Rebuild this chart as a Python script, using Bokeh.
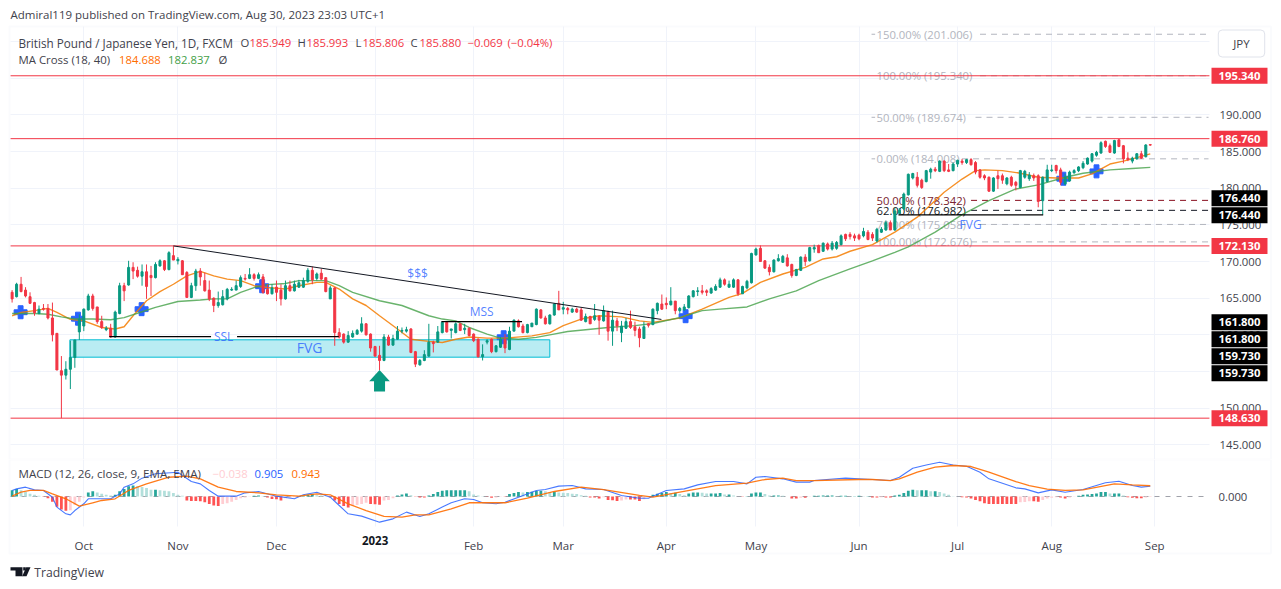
from bokeh.plotting import figure
from bokeh.layouts import column
from bokeh.models import (Range1d, FixedTicker, NumeralTickFormatter, Label, BoxAnnotation,
                          PolyAnnotation, ColumnDataSource)
from bokeh.core.properties import value
from bokeh.embed import file_html
from bokeh.resources import INLINE

FONT = "Open Sans"

opens = [165.8,165.2,166.9,166.1,165.2,164.4,162.9,163.6,163.6,162.3,
160.2,155.1,154.5,155.3,156.9,160.4,161.2,163.4,165.3,163.8,
161.8,160.7,160.9,159.7,162.9,166.7,166.8,169.2,168.8,168.0,
168.6,168.1,167.8,169.4,170.1,168.9,170.8,170.1,170.1,168.5,
165.1,166.7,168.7,167.4,166.1,165.0,164.0,164.1,164.9,166.1,
166.1,166.6,167.7,167.7,168.2,167.7,167.9,166.2,165.6,166.5,
166.1,164.9,166.7,166.0,166.5,166.5,167.3,168.8,167.7,168.4,
167.8,164.9,166.4,160.3,160.1,159.0,159.7,160.1,160.5,161.5,
160.1,158.4,157.2,156.5,159.7,158.6,159.4,160.5,160.5,160.8,
157.7,155.9,156.5,157.1,
159.0,159.0,160.3,161.7,160.6,160.3,161.5,160.7,160.9,160.1,
159.4,157.0,159.0,159.4,157.7,158.3,159.4,158.0,160.5,161.9,
161.2,160.3,161.1,161.4,163.4,162.3,161.5,162.7,164.3,163.5,
163.6,163.1,163.5,163.4,161.8,162.5,162.1,162.5,161.9,163.1,
160.5,161.9,160.3,160.9,161.8,161.1,160.8,159.5,161.5,161.4,
163.3,164.2,164.3,164.1,164.6,163.3,163.4,163.7,165.2,165.9,
166.0,166.0,165.7,166.1,166.5,167.5,166.5,166.5,167.5,165.6,
166.4,167.1,170.9,171.8,170.1,169.2,168.6,170.1,169.9,170.5,
169.6,168.1,168.8,170.6,170.1,171.7,172.2,171.4,172.4,171.7,
171.8,172.3,173.7,173.7,173.5,173.6,173.5,174.0,173.7,172.8,
174.0,174.3,175.3,174.3,176.6,177.2,179.1,181.4,181.5,181.1,
180.9,182.2,182.6,182.3,183.7,182.5,182.4,183.3,183.7,183.5,
183.9,183.5,182.5,181.7,181.5,179.6,181.7,181.7,180.6,181.5,
180.8,180.1,181.5,181.3,181.7,181.7,178.3,180.9,182.4,183.1,
182.5,180.6,181.0,182.1,182.4,182.8,183.3,183.7,184.5,184.8,
186.4,185.8,184.8,186.6,185.8,184.1,183.7,184.0,184.7,184.3,185.949]

closes = [164.9,166.9,165.9,165.3,164.3,163.0,163.5,163.5,162.3,160.0,
155.2,154.5,155.3,156.9,159.3,162.1,163.5,165.3,163.6,161.8,
161.0,160.9,159.7,163.1,166.7,166.0,169.2,168.7,168.0,168.6,
166.6,167.8,169.6,170.1,168.9,171.2,170.2,170.3,168.2,165.1,
166.7,168.7,167.9,166.0,164.9,164.0,164.4,165.2,166.2,166.2,
166.7,167.8,167.6,168.2,167.7,168.2,165.8,165.6,166.4,165.8,
164.9,166.7,166.0,166.9,167.1,167.4,168.8,167.5,168.3,167.6,
165.9,166.4,160.3,159.7,159.0,159.9,160.2,160.6,161.5,160.0,
158.2,157.1,156.5,159.7,158.6,159.5,160.5,160.6,160.7,157.6,
156.0,156.5,157.3,159.0,
158.8,160.4,161.7,160.4,160.8,161.5,160.6,160.9,159.9,159.2,
157.0,157.3,159.2,157.7,158.5,159.4,158.2,160.5,162.0,161.1,
160.3,161.4,161.6,163.5,162.3,161.5,162.7,164.2,163.4,163.7,
163.4,163.5,163.1,162.0,162.5,161.5,162.6,162.0,163.3,160.5,
162.0,161.2,161.2,161.8,161.0,160.6,159.6,161.1,161.3,163.5,
164.3,163.5,164.1,164.6,163.3,163.6,163.8,165.3,166.0,166.0,
165.8,165.8,166.3,166.6,167.5,166.9,166.9,167.5,165.6,166.6,
167.3,171.1,171.7,170.0,169.1,168.6,170.2,170.4,170.7,169.4,
168.1,168.9,170.6,170.0,171.9,171.9,171.2,172.5,171.7,172.5,
172.6,173.5,173.1,173.4,173.2,173.1,174.1,173.0,173.2,174.4,
174.4,175.3,174.3,176.9,177.0,179.2,181.9,182.0,180.4,180.1,
182.4,182.6,182.4,183.7,182.4,182.3,183.3,183.8,183.5,183.9,
183.2,182.2,181.5,181.4,179.6,181.4,181.3,181.1,181.4,180.4,
180.4,182.4,182.3,181.8,181.4,178.2,181.5,182.5,182.5,182.4,
180.8,181.5,182.2,182.4,182.9,183.4,184.1,184.7,184.9,186.2,
185.7,184.9,186.5,185.7,184.0,183.9,184.1,184.7,184.1,185.9,185.88]

highs = [166.1,167.1,167.9,166.5,165.8,164.5,164.0,164.2,164.2,164.4,
160.2,157.1,156.4,159.2,159.3,162.8,163.6,165.6,165.6,163.8,
162.6,161.2,161.5,163.3,167.1,167.1,170.1,169.9,169.3,169.6,
169.6,169.4,169.9,170.3,170.2,171.4,172.1,170.6,170.2,168.7,
167.1,169.0,169.1,168.5,167.4,165.1,165.9,166.1,166.4,166.5,
167.4,168.1,168.3,169.1,168.4,168.5,168.3,166.9,166.9,167.4,
166.9,167.4,167.4,167.4,167.5,167.8,169.1,169.3,168.5,169.0,
167.8,166.7,166.5,160.9,160.2,160.5,160.6,160.8,162.4,161.6,
160.2,158.5,158.5,160.1,160.0,160.0,161.2,161.0,161.1,160.9,
157.8,156.7,157.9,161.5,
159.2,161.2,161.8,161.8,160.8,161.7,161.6,161.5,161.0,160.2,
159.5,158.7,159.4,159.5,158.6,159.7,160.1,161.1,162.1,162.1,
161.5,161.5,161.6,163.6,163.5,162.6,162.8,164.3,166.0,164.5,
163.8,163.7,163.7,163.7,162.9,162.6,164.2,162.7,164.0,163.3,
163.3,162.3,161.9,162.3,163.3,161.8,161.1,161.8,161.6,163.6,
164.4,165.5,165.1,166.5,164.6,163.8,164.2,165.4,166.1,166.5,
166.8,166.2,166.5,166.9,167.8,167.7,167.4,167.7,167.6,166.7,
167.5,171.2,171.9,172.2,170.2,169.6,170.3,171.0,170.9,171.0,
169.7,169.0,170.7,171.0,172.0,172.3,172.3,172.6,172.6,172.8,
172.8,173.7,173.8,174.0,173.8,173.8,174.6,174.3,174.0,174.6,
174.7,175.6,175.6,177.3,177.3,179.4,182.0,182.1,182.2,181.3,
182.5,182.8,182.9,183.8,183.8,183.3,183.5,183.9,184.0,184.0,
184.1,183.7,182.6,181.9,181.6,181.5,182.4,182.0,181.5,181.7,
181.0,182.5,182.5,182.2,182.0,181.9,181.6,183.2,183.2,183.2,
182.8,182.0,182.4,182.6,183.0,183.7,184.2,184.8,185.1,186.4,
186.5,186.1,186.6,186.7,185.9,184.9,184.3,184.8,185.1,186.0,185.993]

lows = [164.4,165.1,165.8,165.1,164.2,162.6,162.8,163.3,162.1,159.1,
155.2,148.63,153.9,152.6,155.5,159.3,160.5,163.3,163.3,161.5,
160.8,160.5,159.6,159.6,162.8,164.6,166.7,167.6,167.8,166.7,
164.9,165.3,167.7,169.3,168.7,168.8,170.2,169.6,168.2,165.1,
165.0,166.0,166.7,165.9,164.6,163.1,163.7,164.0,164.7,166.0,
166.1,166.4,167.4,167.6,167.4,167.6,165.6,165.5,165.5,164.6,
164.0,164.8,165.9,165.9,166.4,166.4,167.1,166.9,167.4,167.5,
165.8,164.9,158.5,159.5,158.8,158.9,159.6,160.0,160.3,159.9,
157.7,157.0,155.2,156.4,158.5,158.5,159.3,160.2,160.3,157.5,
155.6,155.8,156.4,157.0,
157.6,158.9,160.2,160.3,159.5,160.2,160.5,160.1,159.8,159.0,
156.9,156.5,158.7,157.5,157.6,158.2,157.5,157.9,160.5,161.0,
160.2,160.2,161.1,161.3,162.2,161.4,161.4,162.6,163.4,162.8,
162.8,163.0,163.0,161.9,161.7,161.5,161.9,160.0,161.8,159.2,
158.5,160.5,159.0,160.8,160.8,159.8,158.3,159.5,161.0,161.3,
162.8,163.4,163.5,164.0,162.8,163.0,163.3,163.6,165.1,165.3,
165.5,165.3,165.6,166.0,166.4,166.7,166.4,166.4,165.3,165.6,
166.2,167.0,170.8,170.0,169.0,168.1,168.5,170.0,169.8,169.3,
167.8,168.0,168.7,169.4,170.0,171.2,171.2,171.3,171.5,171.5,
171.6,172.2,172.8,173.0,172.8,172.9,173.3,172.9,172.8,172.6,
173.9,174.2,174.3,174.2,176.4,177.0,179.0,181.2,180.1,179.9,
180.8,181.3,182.2,182.2,182.2,182.2,182.3,182.9,183.2,183.3,
183.1,181.9,181.3,181.1,179.5,179.5,179.9,180.6,180.4,180.2,
179.7,180.0,181.3,181.0,181.0,177.4,176.4,180.8,182.2,182.0,
180.4,180.4,180.9,182.0,182.2,182.6,183.2,183.5,184.3,184.7,
185.5,184.8,184.7,185.6,183.4,183.7,183.4,183.9,184.0,184.2,185.806]

ma18_bars = [0,2,5,8,10,13,16,20,23,25,27,30,33,36,39,42,45,48,51,54,57,61,64,68,70,73,76,79,82,86,89,93,
96,99,102,106,110,116,120,123,127,131,136,140,143,149,154,160,163,167,172,177,181,184,187,
192,197,202,208,212,215,217,221,225,229,233,238,241,245,248,250,254]
ma18 = [162.6,163.05,163.3,163.6,163.05,162.1,161.9,161.0,160.8,161.1,162.6,164.65,165.9,166.9,168.05,168.65,168.05,167.6,167.4,166.7,166.45,166.25,166.7,167.15,167.15,166.25,164.9,164.0,162.6,160.8,159.4,159.1,
158.95,159.4,159.7,159.55,159.55,159.85,160.3,161.25,162.15,162.6,162.45,161.9,161.7,162.3,163.5,165.1,165.65,167.15,168.3,169.2,170.35,170.65,171.4,
172.3,174.0,176.05,179.45,181.25,182.4,182.5,182.4,182.05,181.5,181.4,181.4,181.95,183.3,183.7,184.0,184.688]

ma40_bars = [0,5,8,11,14,18,22,25,29,32,37,42,45,48,51,54,57,61,64,70,73,76,82,87,93,
96,99,102,106,109,113,117,120,124,128,133,139,143,149,154,158,164,169,175,180,187,
192,197,200,206,212,218,224,229,235,239,245,250,254]
ma40 = [162.9,162.9,162.8,162.45,162.15,162.15,162.05,162.35,163.15,163.75,164.55,164.75,164.9,164.9,165.8,166.45,166.85,167.0,167.4,167.4,166.7,165.8,164.65,164.0,162.6,
162.15,161.9,161.0,160.1,159.55,159.4,159.65,160.0,160.45,160.7,161.0,161.25,161.55,162.35,163.3,163.5,163.8,164.9,166.0,167.4,169.0,
170.1,171.25,172.0,174.0,176.4,178.3,179.9,180.45,181.5,182.05,182.5,182.7,182.837]

macd_bars = [0,1,3,5,7,9,10,12,13,14,16,17,20,22,24,25,27,29,32,37,40,42,44,46,50,52,55,59,63,65,68,71,73,75,78,82,85,88,91,
93,96,98,101,103,105,108,110,113,117,119,122,125,128,132,136,140,142,146,150,153,157,161,164,166,168,172,175,178,179,186,
192,196,198,201,204,207,210,213,216,218,224,226,229,232,235,239,244,247,250,252,254]
macd_line = [.53,.67,.82,.58,.53,-.06,-.93,-1.52,-1.61,-1.23,-.64,-.2,-.2,-.2,.23,.82,1.11,1.61,1.99,2.13,1.31,1.11,.53,.03,.03,.32,.44,.03,-.2,.15,.38,-.06,-.79,-1.52,-1.72,-2.25,-1.96,-1.37,-1.75,
-1.52,-.93,-.55,-.2,-.26,-.55,-.64,-.5,-.06,.53,.61,.91,.96,.67,.61,.09,-.15,-.15,.53,.67,1.02,1.31,1.31,1.11,1.69,1.75,1.55,1.26,1.26,1.4,1.61,
1.49,1.4,1.69,2.48,2.77,3.01,2.77,2.66,2.13,1.55,.76,.67,.32,.58,.38,.61,1.2,1.34,.96,.82,.905]

signal_bars = [0,2,4,7,9,12,15,18,20,23,26,30,35,39,42,46,50,55,59,64,68,71,75,79,83,87,90,
93,98,102,110,115,121,127,132,140,143,149,157,164,168,172,175,179,189,
192,196,198,202,206,210,214,218,224,227,231,235,239,246,250,254]
signal_line = [.03,.38,.53,.53,.23,-.2,-.85,-.55,-.35,-.2,.53,1.11,1.69,1.78,1.55,.82,.44,.32,.15,.03,.23,.15,-.64,-1.23,-1.75,-1.81,-1.61,
-1.61,-1.08,-.55,-.55,-.15,.44,.82,.61,.09,-.06,.38,.96,1.17,1.49,1.61,1.4,1.4,1.49,
1.49,1.4,1.55,2.13,2.57,2.72,2.63,2.13,1.31,.96,.64,.53,.58,1.11,1.02,.943]

histogram = [.54,.66,.54,.39,.24,.15,.06,-.03,
-.15,-.45,-.9,-1.14,-1.26,-1.2,-.75,-.45,-.09,
.36,.45,.36,.24,.15,.09,.15,.45,.66,.9,.96,.9,.84,.75,.6,.6,.54,.51,.45,.3,.15,.06,
-.36,-.39,-.39,-.42,-.51,-.66,-.78,-.84,-.66,-.6,-.45,-.3,-.15,-.09,-.03,.06,.09,.03,
-.09,-.21,-.24,-.36,-.15,-.12,-.06,0,
.06,.18,.21,.12,.09,.03,
-.06,-.36,-.66,-.84,-.96,-.81,-.75,-.66,-.54,-.66,-.69,-.72,-.36,-.3,-.15,
.09,.18,.27,.12,
-.03,-.09,-.09,
.09,
.21,.39,.51,.54,.54,.54,.54,.54,.45,.18,.09,.03,
-.03,-.12,-.09,-.03,-.03,
.21,.3,.39,.36,.39,.42,.48,.51,.45,.39,.42,.36,.33,.3,.24,.21,.12,.06,
-.09,-.09,-.18,-.06,-.3,-.33,-.39,-.36,-.27,-.27,-.27,-.39,-.24,-.03,
.15,.24,.3,.39,.3,.33,.21,.12,.27,.36,.36,.33,.27,.27,.27,.3,.18,.18,.09,
0,-.03,
.03,.27,.36,.36,.21,.09,.09,.09,.06,0,
-.18,-.18,-.12,-.12,-.03,
.06,.06,.09,.09,.09,.03,.06,.06,.03,.03,.06,.03,.03,
-.09,-.09,-.06,-.09,-.09,
.09,.15,.3,.51,.6,.54,.54,.54,.45,.45,.39,.27,.15,.03,0,
-.06,-.09,-.18,-.3,-.42,-.6,-.66,-.66,-.66,-.66,-.66,-.66,-.66,-.51,-.48,-.42,-.42,-.45,-.3,-.18,-.12,-.06,-.09,-.18,-.09,-.03,
.06,.15,.18,.21,.27,.39,.39,.27,.27,.27,.09,
-.06,-.12,-.15,-.15,-.09,-.038]

assert len(opens) == len(closes) == len(highs) == len(lows) == len(histogram) == 255
assert len(ma18) == len(ma18_bars) and len(ma40) == len(ma40_bars)
assert len(macd_line) == len(macd_bars) and len(signal_line) == len(signal_bars)

month_bars = [16,37,59,81,103,123,146,166,189,211,232,255]
month_names = ["Oct","Nov","Dec","","Feb","Mar","Apr","May","Jun","Jul","Aug","Sep"]
price_ticks = [145,150,155,160,165,170,175,180,185,190,195,200]

horizontal_levels = [195.34,186.76,172.13,148.63]
cross_bars = [1.9,14.7,28.9,55.8,109.7,150.3,234.6,242.0]
cross_prices = [163.08,162.2,163.5,166.63,159.67,162.54,181.3,182.3]

fib_prices = [201.006,195.34,189.674,184.008,178.342,176.982,175.058,172.676]
fib_labels = ["150.00% (201.006)","100.00% (195.340)","50.00% (189.674)","0.00% (184.008)",
              "50.00% (178.342)","62.00% (176.982)","79.00% (175.058)","100.00% (172.676)"]
fib_text_colors = ["#b2b5be","#b2b5be","#b2b5be","#b2b5be","#7a2430","#131722","#b2b5be","#b2b5be"]
fib_line_colors = ["#b2b5be","#b2b5be","#b2b5be","#b2b5be","#880e1f","#131722","#b2b5be","#b2b5be"]
fib_line_from = [216,216,215,212,214,214,216,214]
fib_line_to = 267
fib_text_x = 192.9

axis_boxes = [("195.340",195.34,"#f23645"),("186.760",186.76,"#f23645"),("172.130",172.13,"#f23645"),("148.630",148.63,"#f23645"),
              ("176.440",178.63,"#000000"),("176.440",176.32,"#000000"),
              ("161.800",161.72,"#000000"),("161.800",159.4,"#000000"),("159.730",157.08,"#000000"),("159.730",154.76,"#000000")]

RED = "#f23645"; GREEN = "#089981"; BLUE = "#2962ff"; ORANGE = "#ff6d00"; GRID = "#f0f3fa"; TXT = "#3f424c"

PLOT_LEFT, PLOT_RIGHT = -0.357, 267.2
x_range = Range1d(-2.589, 281.5)

p = figure(width=1273, height=459, x_range=x_range, y_range=Range1d(142.99, 205.61),
           y_axis_location="right", output_backend="svg", toolbar_location=None,
           min_border_left=0, min_border_right=0, min_border_top=0, min_border_bottom=0,
           outline_line_color=None)
p.xaxis.visible = False
p.yaxis.ticker = FixedTicker(ticks=price_ticks)
p.yaxis.formatter = NumeralTickFormatter(format="0.000")
p.yaxis.axis_line_color = None
p.yaxis.major_tick_line_color = None
p.yaxis.minor_tick_line_color = None
p.yaxis.major_label_standoff = -60
p.yaxis.major_label_text_font = FONT
p.yaxis.major_label_text_font_size = "11.3px"
p.yaxis.major_label_text_color = TXT
p.ygrid.ticker = FixedTicker(ticks=price_ticks)
p.xgrid.ticker = FixedTicker(ticks=month_bars)
p.ygrid.cross_bounds = (PLOT_LEFT, PLOT_RIGHT)
p.xgrid.cross_bounds = (143.0, 202.05)
p.grid.grid_line_color = GRID

# FVG zone
p.quad(left=[12.9], right=[120], top=[159.32], bottom=[156.95], fill_color="#b9ecf3", line_color="#00bcd4", line_width=1)

# Fibonacci
p.segment(x0=fib_line_from, x1=[fib_line_to]*8, y0=fib_prices, y1=fib_prices, line_color=fib_line_colors, line_dash="6 5", line_width=1)
p.segment(x0=[191.8]*3, x1=[192.6]*3, y0=[201.006,189.674,184.008], y1=[201.006,189.674,184.008], line_color="#b2b5be")
p.text(x=[fib_text_x]*8, y=fib_prices, text=fib_labels, text_color=fib_text_colors, text_baseline="middle",
       text_font=value(FONT), text_font_size="11.3px")

# horizontal levels
p.segment(x0=[PLOT_LEFT]*4, x1=[PLOT_RIGHT]*4, y0=horizontal_levels, y1=horizontal_levels, line_color=RED, line_width=1)

# MA crosses, moving averages, candles
p.scatter(cross_bars, cross_prices, marker="plus", size=13, color=BLUE)
p.line(ma18_bars, ma18, line_color="#f57c00", line_width=1.4, line_alpha=0.85)
p.line(ma40_bars, ma40, line_color="#43a047", line_width=1.4, line_alpha=0.8)

bars = list(range(len(opens)))
colors = [GREEN if c >= o else RED for o, c in zip(opens, closes)]
src = ColumnDataSource(dict(x=bars, o=opens, c=closes, h=highs, l=lows, col=colors,
                            top=[max(a, b) for a, b in zip(opens, closes)],
                            bot=[min(a, b) for a, b in zip(opens, closes)]))
p.segment(x0="x", x1="x", y0="l", y1="h", line_color="col", line_width=1, source=src)
p.vbar(x="x", width=0.45, top="top", bottom="bot", fill_color="col", line_color="col", line_width=1, source=src)

# trend and structure lines
p.line([36, 144.9], [172.13, 162.1], line_color="#131722", line_width=1)
p.segment(x0=[21.7, 50.2, 95.8, 197.8], x1=[44.4, 72.9, 113.8, 230.1],
          y0=[159.75, 159.75, 161.8, 176.37], y1=[159.75, 159.75, 161.8, 176.37], line_color="#000000", line_width=1.2)

# drawing labels
p.text(x=[90.5, 47.2, 104.8, 213.9], y=[168.4, 159.77, 163.18, 175.1], text=["$$$", "SSL", "MSS", "FVG"],
       text_color=BLUE, text_alpha=0.8, text_align="center", text_baseline="middle", text_font=value(FONT), text_font_size="12px")
p.text(x=[66.4], y=[158.27], text=["FVG"], text_color=BLUE, text_alpha=0.8, text_align="center", text_baseline="middle",
       text_font=value(FONT), text_font_size="14px")

# buy arrow
ax, tip, neck, tail = 82.0, 155.2, 153.65, 152.27
p.patch([ax, ax+2.3, ax+1.23, ax+1.23, ax-1.23, ax-1.23, ax-2.3],
        [tip, neck, neck, tail, tail, neck, neck], fill_color=GREEN, line_color=None)


def text(fig, x, y, s, color="#3f424c", size="11.5px", align="left", top=0, style="normal"):
    fig.add_layout(Label(x=x, y=y-top, x_units="canvas", y_units="canvas", text=s, text_color=color,
                         text_font=FONT, text_font_size=size, text_font_style=style,
                         text_align=align, text_baseline="middle"))


text(p, 10, 14, "Admiral119 published on TradingView.com, Aug 30, 2023 23:03 UTC+1")
text(p, 18, 42, "British Pound / Japanese Yen, 1D, FXCM", size="11.7px")
for xp, s, c in [(240,"O",TXT),(249,"185.949",RED),(297,"H",TXT),(306,"185.993",RED),(355,"L",TXT),(362,"185.806",RED),
                 (410,"C",TXT),(419,"185.880",RED),(467,"\u22120.069",RED),(507,"(\u22120.04%)",RED)]:
    text(p, xp, 42, s, c, size="11.3px")
text(p, 18, 59, "MA Cross (18, 40)", size="11.4px")
text(p, 118.6, 59, "184.688", ORANGE, size="11.3px")
text(p, 167.6, 59, "182.837", "#43a047", size="11.3px")
text(p, 218, 59, "\u00d8", size="11.3px")

for s, y, c in axis_boxes:
    p.add_layout(Label(x=1239, y=y, x_units="canvas", y_units="data", text=s, text_color="#ffffff",
                       text_font=FONT, text_font_size="11.3px", text_font_style="bold", text_align="center", text_baseline="middle",
                       background_fill_color=c, padding=(7, 7, 4, 4)))
p.add_layout(Label(x=1241, y=43, x_units="canvas", y_units="canvas", text="JPY", text_color=TXT, text_font=FONT,
                   text_font_size="11.5px", text_align="center", text_baseline="middle", background_fill_color="#ffffff",
                   border_line_color="#e0e3eb", border_line_width=1, padding=(15, 15, 6, 6), border_radius=4))
p.add_layout(BoxAnnotation(left=9, right=1270.5, top=26, bottom=459, left_units="canvas", right_units="canvas",
                           top_units="canvas", bottom_units="canvas", fill_alpha=0, line_color=GRID, line_width=2))

m = figure(width=1273, height=122, x_range=x_range, y_range=Range1d(-7.456, 3.246),
           y_axis_location="right", output_backend="svg", toolbar_location=None,
           min_border_left=0, min_border_right=0, min_border_top=0, min_border_bottom=0,
           outline_line_color=None)
m.xaxis.ticker = FixedTicker(ticks=month_bars)
m.xaxis.major_label_overrides = dict(zip(month_bars, month_names))
m.xaxis.axis_line_color = None
m.xaxis.major_tick_line_color = None
m.xaxis.minor_tick_line_color = None
m.xaxis.major_label_standoff = -50
m.xaxis.major_label_text_font = FONT
m.xaxis.major_label_text_font_size = "11.5px"
m.xaxis.major_label_text_color = TXT
m.yaxis.ticker = FixedTicker(ticks=[0])
m.yaxis.formatter = NumeralTickFormatter(format="0.000")
m.yaxis.axis_line_color = None
m.yaxis.major_tick_line_color = None
m.yaxis.minor_tick_line_color = None
m.yaxis.major_label_standoff = -61
m.yaxis.major_label_text_font = FONT
m.yaxis.major_label_text_font_size = "11.3px"
m.yaxis.major_label_text_color = TXT
m.xgrid.ticker = FixedTicker(ticks=month_bars)
m.xgrid.cross_bounds = (-2.63, 3.25)
m.ygrid.visible = False
m.grid.grid_line_color = GRID

hist_colors = []
prev = 0
for v in histogram:
    if v >= 0:
        hist_colors.append("#26a69a" if v >= prev else "#b2dfdb")
    else:
        hist_colors.append("#ff5252" if v <= prev else "#ffcdd2")
    prev = v
m.segment(x0=[PLOT_LEFT], x1=[PLOT_RIGHT], y0=[0], y1=[0], line_color="#787b86", line_dash="5 6", line_width=1, line_alpha=0.7)
m.vbar(x=bars, width=0.62, top=histogram, bottom=[0]*len(histogram), fill_color=hist_colors, line_color=None)
m.line(macd_bars, macd_line, line_color=BLUE, line_width=1.1, line_alpha=0.85)
m.line(signal_bars, signal_line, line_color=ORANGE, line_width=1.3, line_alpha=0.9)

m.add_layout(Label(x=81, y=540-459, x_units="data", y_units="canvas", text="2023", text_color="#131722", text_font=FONT,
                   text_font_size="11.5px", text_font_style="bold", text_align="center", text_baseline="middle"))
text(m, 18, 473, "MACD (12, 26, close, 9, EMA, EMA)", top=459, size="11.6px")
text(m, 212, 473, "\u22120.038", "#ffcdd2", top=459, size="11.3px")
text(m, 254, 473, "0.905", BLUE, top=459, size="11.3px")
text(m, 291, 473, "0.943", ORANGE, top=459, size="11.3px")
text(m, 33.7, 571.7, "TradingView", size="12.2px", top=459)
m.add_layout(BoxAnnotation(left=9, right=1270.5, top=0, bottom=94, left_units="canvas", right_units="canvas",
                           top_units="canvas", bottom_units="canvas", fill_alpha=0, line_color=GRID, line_width=2))
for xs, ys in [([10,22,22,15,15,10],[566.7,566.7,575.7,575.7,570,570]),
               ([22.7,25.3,25.3,22.7],[566.7,566.7,570,570]),
               ([25.7,30,26,21.7],[566.7,566.7,575.7,575.7])]:
    m.add_layout(PolyAnnotation(xs=xs, ys=[v-459 for v in ys], xs_units="canvas", ys_units="canvas",
                                fill_color="#131722", fill_alpha=1, line_color=None))

page = column(p, m, spacing=0)
open("out.html", "w").write(file_html(page, INLINE))
